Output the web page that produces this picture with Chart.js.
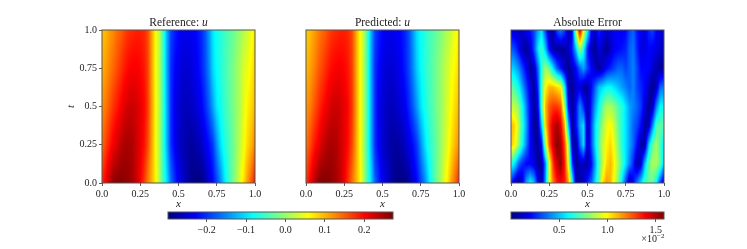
<!DOCTYPE html>
<html>
<head>
<meta charset="utf-8">
<style>
    html, body { margin: 0; padding: 0; background: #fff; }
    #wrap { position: relative; width: 747px; height: 249px; overflow: hidden; }
    canvas { position: absolute; left: 0; top: 0; }
</style>
<script src="https://cdn.jsdelivr.net/npm/chart.js@4"></script>
</head>
<body>
<div id="wrap"></div>
<script>
// grid: x every 0.025
const xGrid = [0, .025, .05, .075, .1, .125, .15, .175, .2, .225, .25, .275, .3, .325, .35, .375, .4, .425, .45, .475, .5,
    .525, .55, .575, .6, .625, .65, .675, .7, .725, .75, .775, .8, .825, .85, .875, .9, .925, .95, .975, 1];
const tGridU = [0, .25, .5, .75, 1];
const tGridErr = [0, .125, .25, .375, .5, .625, .75, .875, 1];

const refT000 = [.18, .21, .24, .265, .27, .27, .265, .26, .25, .23, .205, .17, .13, .1, .065, .01, -.05, -.1, -.165, -.2, -.235,
    -.25, -.27, -.285, -.295, -.298, -.295, -.28, -.25, -.225, -.19, -.15, -.1, -.06, -.025, 0, .04, .075, .115, .15, .195];
const refT025 = [.14, .165, .19, .21, .225, .24, .25, .25, .245, .23, .215, .195, .16, .11, .06, .01, -.055, -.13, -.2, -.23, -.255,
    -.265, -.275, -.28, -.28, -.27, -.26, -.24, -.22, -.195, -.145, -.1, -.07, -.05, -.03, -.005, .02, .05, .08, .1, .13];
const refT050 = [.12, .135, .155, .175, .19, .205, .22, .23, .23, .225, .215, .2, .17, .115, .06, .015, -.05, -.13, -.2, -.235, -.25,
    -.26, -.265, -.262, -.255, -.245, -.23, -.205, -.175, -.135, -.095, -.075, -.055, -.04, -.02, -.005, .015, .04, .065, .08, .1];
const refT075 = [.1, .115, .13, .145, .16, .175, .19, .2, .205, .205, .2, .19, .165, .11, .06, .015, -.05, -.135, -.2, -.225, -.24,
    -.25, -.25, -.25, -.24, -.23, -.21, -.185, -.15, -.105, -.08, -.065, -.05, -.035, -.02, -.005, .015, .035, .05, .065, .085];
const refT100 = [.09, .1, .115, .125, .14, .15, .165, .175, .18, .185, .185, .18, .16, .11, .06, .02, -.05, -.13, -.19, -.21, -.225,
    -.235, -.235, -.235, -.23, -.22, -.205, -.18, -.14, -.095, -.075, -.065, -.05, -.04, -.03, -.015, 0, .015, .03, .05, .07];

const predT000 = [.17, .205, .235, .26, .272, .272, .268, .26, .25, .235, .21, .175, .14, .105, .07, .015, -.045, -.1, -.17, -.205, -.235,
    -.25, -.27, -.285, -.295, -.297, -.293, -.28, -.25, -.225, -.19, -.155, -.105, -.06, -.025, 0, .04, .07, .11, .145, .185];
const predT025 = [.135, .16, .185, .205, .225, .24, .248, .25, .245, .23, .215, .195, .165, .115, .065, .015, -.05, -.125, -.2, -.23, -.25,
    -.265, -.275, -.28, -.28, -.27, -.26, -.24, -.22, -.195, -.15, -.105, -.07, -.05, -.03, -.005, .02, .045, .075, .1, .125];
const predT050 = [.115, .13, .15, .17, .19, .205, .22, .228, .23, .225, .215, .2, .172, .12, .065, .02, -.045, -.125, -.2, -.235, -.25,
    -.26, -.265, -.262, -.255, -.245, -.23, -.205, -.175, -.14, -.1, -.075, -.055, -.04, -.02, -.005, .015, .04, .06, .08, .1];
const predT075 = [.095, .11, .125, .145, .16, .175, .19, .2, .205, .205, .2, .19, .168, .115, .065, .02, -.045, -.13, -.2, -.225, -.24,
    -.25, -.25, -.25, -.24, -.23, -.21, -.185, -.15, -.11, -.085, -.065, -.05, -.035, -.02, -.005, .015, .03, .05, .065, .08];
const predT100 = [.085, .095, .11, .125, .14, .15, .165, .175, .18, .185, .185, .18, .162, .115, .065, .025, -.045, -.125, -.19, -.21, -.225,
    -.235, -.235, -.235, -.23, -.22, -.205, -.18, -.14, -.1, -.08, -.065, -.05, -.04, -.03, -.015, 0, .015, .03, .05, .07];

// absolute error, in units of 1e-2
const errT000 = [.25, .1, .03, .15, .45, .6, .5, .2, .05, .45, .95, 1.2, 1.35, 1.4, 1.35, 1.15, .65, .1, .05, .1, .25,
    .35, .55, .75, 1.05, 1.15, 1.1, .95, .8, .55, .3, .05, .2, .4, .55, .7, .75, .75, .6, .3, .05];
const errT125 = [.65, .55, .35, .25, .2, .2, .15, .04, .05, .4, .95, 1.3, 1.48, 1.55, 1.35, .95, .3, .03, .1, .1, .05,
    .2, .45, .7, .9, 1.05, 1.1, 1, .85, .7, .55, .4, .25, .04, .15, .5, .75, .85, .85, .75, .5];
const errT250 = [1.08, 1, .82, .6, .4, .2, .1, .03, .2, .85, 1.25, 1.45, 1.58, 1.52, 1.28, .85, .1, .05, .35, .55, .05,
    .3, .55, .75, .9, 1, 1.05, .95, .8, .65, .55, .45, .35, .2, .05, .08, .5, .75, .85, .7, .55];
const errT375 = [1.1, 1.05, .88, .65, .45, .2, .04, .05, .5, 1.05, 1.3, 1.45, 1.53, 1.42, 1.12, .5, .04, .2, .45, .55, .03,
    .3, .55, .7, .85, .95, 1, .9, .75, .65, .55, .45, .35, .3, .2, .04, .1, .4, .7, .75, .7];
const errT500 = [.9, .88, .8, .6, .4, .2, .04, .15, .7, 1.1, 1.25, 1.3, 1.3, 1.25, .85, .2, .03, .2, .42, .25, .05,
    .25, .45, .6, .75, .85, .85, .8, .72, .65, .55, .45, .4, .35, .28, .15, .03, .1, .4, .6, .6];
const errT625 = [.75, .7, .6, .45, .3, .15, .03, .25, .7, 1, 1.1, 1.1, 1.05, 1, .6, .1, .03, .12, .15, .05, .05,
    .2, .35, .5, .55, .6, .6, .55, .5, .45, .4, .35, .4, .3, .25, .2, .1, .02, .1, .35, .4];
const errT750 = [.55, .5, .42, .3, .18, .05, .1, .35, .65, .85, .75, .55, .35, .22, .1, .03, .1, .2, .35, .45, .3,
    .2, .1, .04, .1, .2, .25, .3, .35, .35, .3, .35, .4, .3, .2, .2, .2, .12, .08, .03, .06];
const errT875 = [.35, .3, .2, .08, .04, .12, .3, .55, .7, .5, .2, .07, .04, .03, .05, .1, .25, .5, .85, .6, .25,
    .08, .03, .15, .1, .03, .1, .18, .2, .22, .25, .35, .38, .25, .15, .15, .2, .18, .15, .12, .1];
const errT100 = [.15, .12, .1, .12, .18, .22, .3, .45, .55, .3, .06, .06, .3, .4, .3, .08, .2, .9, 1.45, 1, .6,
    .2, .12, .25, .18, .12, .15, .18, .2, .18, .2, .3, .35, .22, .18, .15, .25, .3, .2, .15, .12];

const axisTicks = [0, .25, .5, .75, 1];
const axisLabels = ['0.0', '0.25', '0.5', '0.75', '1.0'];
const uRange = [-.298, .273];
const errRange = [0, 1.586];
const uBarTicks = [-.2, -.1, 0, .1, .2];
const uBarLabels = ['−0.2', '−0.1', '0.0', '0.1', '0.2'];
const errBarTicks = [.5, 1, 1.5];
const errBarLabels = ['0.5', '1.0', '1.5'];

const SERIF = '"Liberation Serif", serif';
const tickFont = { family: SERIF, size: 10 };
const mathFont = { family: SERIF, size: 11, style: 'italic' };

function jet(n) {
    n = Math.min(1, Math.max(0, n));
    const ramp = (a) => Math.min(1, Math.max(0, 1.5 - Math.abs(4 * n - a)));
    return [ramp(3) * 255, ramp(2) * 255, ramp(1) * 255];
}

function gridPoints(rows, tGrid) {
    const pts = [];
    rows.forEach((row, j) => row.forEach((v, i) => pts.push({ x: xGrid[i], y: tGrid[j], v: v })));
    return pts;
}

function bracket(arr, val) {
    let i = 0;
    while (i < arr.length - 2 && arr[i + 1] < val) i++;
    return [i, Math.min(1, Math.max(0, (val - arr[i]) / (arr[i + 1] - arr[i])))];
}

// paints the field into the plot area, looking every pixel up through the chart scales
const heatPlugin = {
    id: 'heat',
    beforeDatasetsDraw(chart, args, opts) {
        const { left, top, width, height } = chart.chartArea;
        const w = Math.round(width), h = Math.round(height);
        const off = document.createElement('canvas');
        off.width = w; off.height = h;
        const octx = off.getContext('2d');
        const img = octx.createImageData(w, h);
        const sx = chart.scales.x, sy = chart.scales.y;
        const pts = chart.data.datasets[0].data;
        for (let py = 0; py < h; py++) {
            for (let px = 0; px < w; px++) {
                const xv = sx.getValueForPixel(left + px + .5);
                const yv = sy.getValueForPixel(top + py + .5);
                let val;
                if (opts.bar) {
                    val = xv;
                } else {
                    const [i, fx] = bracket(xGrid, xv);
                    const [j, fy] = bracket(opts.tGrid, yv);
                    const n = xGrid.length;
                    const a = pts[j * n + i].v, b = pts[j * n + i + 1].v;
                    const c = pts[(j + 1) * n + i].v, d = pts[(j + 1) * n + i + 1].v;
                    val = (a * (1 - fx) + b * fx) * (1 - fy) + (c * (1 - fx) + d * fx) * fy;
                }
                const rgb = jet((val - opts.range[0]) / (opts.range[1] - opts.range[0]));
                const p = (py * w + px) * 4;
                img.data[p] = rgb[0]; img.data[p + 1] = rgb[1]; img.data[p + 2] = rgb[2]; img.data[p + 3] = 255;
            }
        }
        octx.putImageData(img, 0, 0);
        chart.ctx.drawImage(off, left, top);
    },
    afterDraw(chart, args, opts) {
        const ctx = chart.ctx;
        const { left, top, width, height, right } = chart.chartArea;
        ctx.save();
        ctx.strokeStyle = '#555';
        ctx.lineWidth = 1;
        ctx.strokeRect(left, top, width, height);
        ctx.fillStyle = '#222';
        ctx.textBaseline = 'alphabetic';
        if (opts.title) {
            ctx.font = '11.5px ' + SERIF;
            const w1 = ctx.measureText(opts.title).width;
            ctx.font = 'italic 11.5px ' + SERIF;
            const w2 = opts.titleMath ? ctx.measureText(' ' + opts.titleMath).width : 0;
            let tx = left + width / 2 - (w1 + w2) / 2;
            ctx.font = '11.5px ' + SERIF;
            ctx.fillText(opts.title, tx, top - 4);
            if (opts.titleMath) {
                ctx.font = 'italic 11.5px ' + SERIF;
                ctx.fillText(' ' + opts.titleMath, tx + w1, top - 4);
            }
        }
        if (opts.offsetText) {
            ctx.font = '10px ' + SERIF;
            ctx.textAlign = 'right';
            ctx.fillText(opts.offsetText, right - 7, 242);
            ctx.font = '7px ' + SERIF;
            ctx.textAlign = 'left';
            ctx.fillText(opts.offsetExp, right - 7, 238);
        }
        ctx.restore();
    }
};

function setTicks(values) {
    return (scale) => { scale.ticks = values.map(v => ({ value: v })); };
}

function makeChart(box, dataset, heatOpts, xOpts, yOpts) {
    const canvas = document.createElement('canvas');
    canvas.width = 747;
    canvas.height = 249;
    document.getElementById('wrap').appendChild(canvas);
    const xHeight = xOpts.height, yWidth = yOpts.display ? yOpts.width : 0;
    return new Chart(canvas, {
        type: 'scatter',
        data: { datasets: [{ data: dataset, pointRadius: 0, showLine: false }] },
        options: {
            responsive: false,
            animation: false,
            events: [],
            layout: { padding: { left: box.l - yWidth, top: box.t, right: 747 - box.r, bottom: 249 - box.b - xHeight } },
            plugins: { legend: { display: false }, tooltip: { enabled: false }, heat: heatOpts },
            scales: {
                x: {
                    type: 'linear',
                    min: xOpts.min,
                    max: xOpts.max,
                    afterBuildTicks: setTicks(xOpts.ticks),
                    afterFit: (s) => { s.height = xHeight; },
                    border: { display: false },
                    grid: { drawOnChartArea: false, tickLength: 3, color: '#333', lineWidth: .8 },
                    ticks: {
                        autoSkip: false, maxRotation: 0, padding: 2, color: '#222', font: tickFont,
                        callback: (v, i) => xOpts.labels[i]
                    },
                    title: { display: !!xOpts.title, text: xOpts.title, color: '#222', font: mathFont, padding: 0 }
                },
                y: {
                    type: 'linear',
                    display: yOpts.display,
                    min: 0,
                    max: 1,
                    afterBuildTicks: setTicks(axisTicks),
                    afterFit: (s) => { s.width = yWidth; },
                    border: { display: false },
                    grid: { drawOnChartArea: false, tickLength: 3, color: '#333', lineWidth: .8 },
                    ticks: {
                        autoSkip: false, padding: 2, color: '#222', font: tickFont,
                        callback: (v, i) => axisLabels[i]
                    },
                    title: { display: true, text: 't', color: '#222', font: mathFont, padding: 0 }
                }
            }
        },
        plugins: [heatPlugin]
    });
}

const mainX = { min: 0, max: 1, ticks: axisTicks, labels: axisLabels, title: 'x', height: 28 };

makeChart({ l: 102, t: 30, r: 255, b: 183 },
    gridPoints([refT000, refT025, refT050, refT075, refT100], tGridU),
    { tGrid: tGridU, range: uRange, title: 'Reference:', titleMath: 'u' },
    mainX, { display: true, width: 37 });

makeChart({ l: 306, t: 30, r: 459, b: 183 },
    gridPoints([predT000, predT025, predT050, predT075, predT100], tGridU),
    { tGrid: tGridU, range: uRange, title: 'Predicted:', titleMath: 'u' },
    mainX, { display: false });

makeChart({ l: 511, t: 30, r: 664, b: 183 },
    gridPoints([errT000, errT125, errT250, errT375, errT500, errT625, errT750, errT875, errT100], tGridErr),
    { tGrid: tGridErr, range: errRange, title: 'Absolute Error' },
    mainX, { display: false });

makeChart({ l: 168, t: 212, r: 393, b: 219 }, [],
    { bar: true, range: uRange },
    { min: uRange[0], max: uRange[1], ticks: uBarTicks, labels: uBarLabels, height: 20 }, { display: false });

makeChart({ l: 511, t: 212, r: 664, b: 219 }, [],
    { bar: true, range: errRange, offsetText: '×10', offsetExp: '−2' },
    { min: errRange[0], max: errRange[1], ticks: errBarTicks, labels: errBarLabels, height: 20 }, { display: false });
</script>
</body>
</html>
